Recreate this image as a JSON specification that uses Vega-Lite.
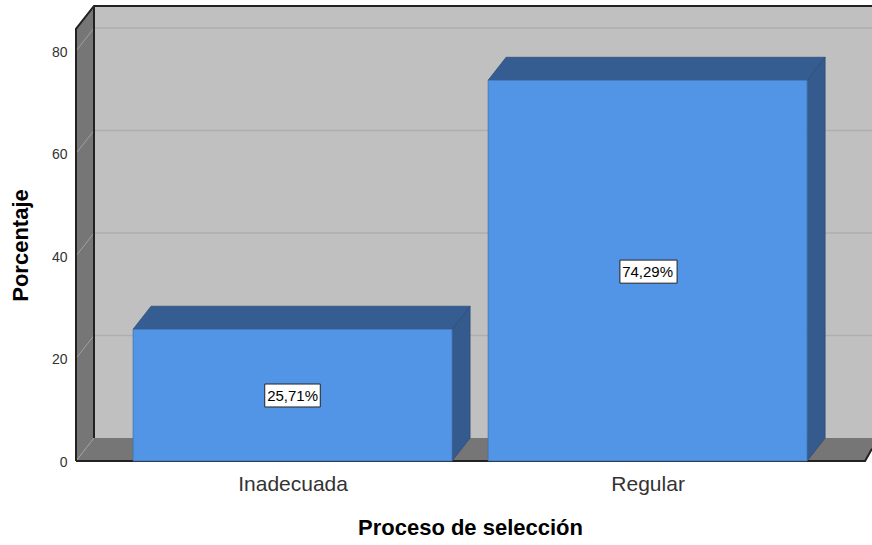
{
"$schema":"https://vega.github.io/schema/vega-lite/v6.json",
"width":796,"height":455,
"padding":{"left":76,"top":6,"right":0,"bottom":84},
"autosize":{"type":"none"},
"background":"white",
"config":{"view":{"stroke":null},"font":"Liberation Sans"},
"datasets":{
"wall":[{"x":0.4407,"x2":2.632,"y":4.49,"y2":88.78}],
"grid":[{"x":0.4407,"x2":2.632,"y":24.49},{"x":0.4407,"x2":2.632,"y":44.49},{"x":0.4407,"x2":2.632,"y":64.49},{"x":0.4407,"x2":2.632,"y":84.49}],
"leftWall":[{"x":0.39,"y":0,"y2":84.3},{"x":0.4407,"y":4.49,"y2":88.78}],
"floor":[{"x":0.39,"y":0,"y2":0},{"x":0.4407,"y":0,"y2":4.49},{"x":2.6125,"y":0,"y2":4.49},{"x":2.632,"y":2.4,"y2":4.49}],
"diag":[
{"k":"a","x":0.39,"y":0},{"k":"a","x":0.4407,"y":4.49},
{"k":"b","x":0.39,"y":20},{"k":"b","x":0.4407,"y":24.49},
{"k":"c","x":0.39,"y":40},{"k":"c","x":0.4407,"y":44.49},
{"k":"d","x":0.39,"y":60},{"k":"d","x":0.4407,"y":64.49},
{"k":"e","x":0.39,"y":80},{"k":"e","x":0.4407,"y":84.49}],
"edges":[
{"k":"left","x":0.39,"y":0},{"k":"left","x":0.39,"y":84.3},{"k":"left","x":0.4407,"y":88.78},{"k":"left","x":2.632,"y":88.78},
{"k":"inner","x":0.4407,"y":4.49},{"k":"inner","x":0.4407,"y":88.78},
{"k":"base","x":0.39,"y":0},{"k":"base","x":2.6125,"y":0},{"k":"base","x":2.632,"y":2.4}],
"top":[
{"k":"Inadecuada","x":0.5507,"y":25.71,"y2":25.71},{"k":"Inadecuada","x":0.6014,"y":25.71,"y2":30.2},{"k":"Inadecuada","x":1.4493,"y":25.71,"y2":30.2},{"k":"Inadecuada","x":1.5,"y":30.2,"y2":30.2},
{"k":"Regular","x":1.5507,"y":74.29,"y2":74.29},{"k":"Regular","x":1.6014,"y":74.29,"y2":78.78},{"k":"Regular","x":2.4493,"y":74.29,"y2":78.78},{"k":"Regular","x":2.5,"y":78.78,"y2":78.78}],
"side":[
{"k":"Inadecuada","x":1.4493,"y":0,"y2":25.71},{"k":"Inadecuada","x":1.5,"y":4.49,"y2":30.2},
{"k":"Regular","x":2.4493,"y":0,"y2":74.29},{"k":"Regular","x":2.5,"y":4.49,"y2":78.78}],
"bars":[
{"categoria":"Inadecuada","x":0.5507,"x2":1.4493,"porcentaje":25.71},
{"categoria":"Regular","x":1.5507,"x2":2.4493,"porcentaje":74.29}],
"boxes":[
{"etiqueta":"25,71%","x":0.9216,"x2":1.078,"y":10.54,"y2":15.02,"cx":1,"cy":12.78},
{"etiqueta":"74,29%","x":1.922,"x2":2.083,"y":34.7,"y2":39.2,"cx":2,"cy":36.95}]
},
"layer":[
{"data":{"name":"wall"},"mark":{"type":"rect","fill":"#c0c0c0"},
 "encoding":{
  "x":{"field":"x","type":"quantitative","scale":{"domain":[0.39,2.632],"nice":false,"zero":false},
   "axis":{"values":[1,2],"labelExpr":"datum.value==1?'Inadecuada':'Regular'","domain":false,"ticks":false,"grid":false,"labelFontSize":21,"labelColor":"#333333","labelPadding":12,"labelFont":"Liberation Sans",
   "title":"Proceso de selección","titleFontSize":22,"titleFontWeight":"bold","titleColor":"#000000","titleX":394,"titleY":56,"titleFont":"Liberation Sans"}},
  "x2":{"field":"x2"},
  "y":{"field":"y","type":"quantitative","scale":{"domain":[0,88.78],"nice":false,"zero":false},
   "axis":{"values":[0,20,40,60,80],"domain":false,"ticks":false,"grid":false,"labelFontSize":14,"labelColor":"#333333","labelPadding":9,"labelOffset":1.5,"labelFont":"Liberation Sans",
   "title":"Porcentaje","titleFontSize":22,"titleFontWeight":"bold","titleColor":"#000000","titleX":-44,"titleY":239,"titleFont":"Liberation Sans"}},
  "y2":{"field":"y2"}}},
{"data":{"name":"grid"},"mark":{"type":"rule","color":"#aeaeae","strokeWidth":1.5},
 "encoding":{"x":{"field":"x","type":"quantitative"},"x2":{"field":"x2"},"y":{"field":"y","type":"quantitative"}}},
{"data":{"name":"leftWall"},"mark":{"type":"area","fill":"#767676","orient":"vertical"},
 "encoding":{"x":{"field":"x","type":"quantitative"},"y":{"field":"y","type":"quantitative","stack":null},"y2":{"field":"y2"}}},
{"data":{"name":"floor"},"mark":{"type":"area","fill":"#767676","orient":"vertical","clip":true},
 "encoding":{"x":{"field":"x","type":"quantitative"},"y":{"field":"y","type":"quantitative","stack":null},"y2":{"field":"y2"}}},
{"data":{"name":"diag"},"mark":{"type":"line","color":"#a0a0a0","strokeWidth":1},
 "encoding":{"x":{"field":"x","type":"quantitative"},"y":{"field":"y","type":"quantitative"},"detail":{"field":"k"},"order":{"field":"x"}}},
{"data":{"name":"edges"},"mark":{"type":"line","color":"#222222","strokeWidth":2,"clip":false},
 "encoding":{"x":{"field":"x","type":"quantitative"},"y":{"field":"y","type":"quantitative"},"detail":{"field":"k"},"order":{"field":"x"}}},
{"data":{"name":"side"},"mark":{"type":"area","fill":"#345a8e","stroke":"#2b4a76","strokeWidth":0.7,"orient":"vertical"},
 "encoding":{"x":{"field":"x","type":"quantitative"},"y":{"field":"y","type":"quantitative","stack":null},"y2":{"field":"y2"},"detail":{"field":"k"}}},
{"data":{"name":"top"},"mark":{"type":"area","fill":"#365d92","stroke":"#2b4a76","strokeWidth":0.7,"orient":"vertical"},
 "encoding":{"x":{"field":"x","type":"quantitative"},"y":{"field":"y","type":"quantitative","stack":null},"y2":{"field":"y2"},"detail":{"field":"k"}}},
{"data":{"name":"bars"},"mark":{"type":"rect","fill":"#5294e6","stroke":"#3d6ea8","strokeWidth":0.7},
 "encoding":{"x":{"field":"x","type":"quantitative"},"x2":{"field":"x2"},"y":{"field":"porcentaje","type":"quantitative"},"y2":{"datum":0}}},
{"data":{"name":"boxes"},"mark":{"type":"rect","fill":"#ffffff","stroke":"#222222","strokeWidth":1},
 "encoding":{"x":{"field":"x","type":"quantitative"},"x2":{"field":"x2"},"y":{"field":"y","type":"quantitative"},"y2":{"field":"y2"}}},
{"data":{"name":"boxes"},"mark":{"type":"text","color":"#000000","fontSize":15,"font":"Liberation Sans","align":"center","baseline":"middle"},
 "encoding":{"x":{"field":"cx","type":"quantitative"},"y":{"field":"cy","type":"quantitative"},"text":{"field":"etiqueta"}}}
]
}
